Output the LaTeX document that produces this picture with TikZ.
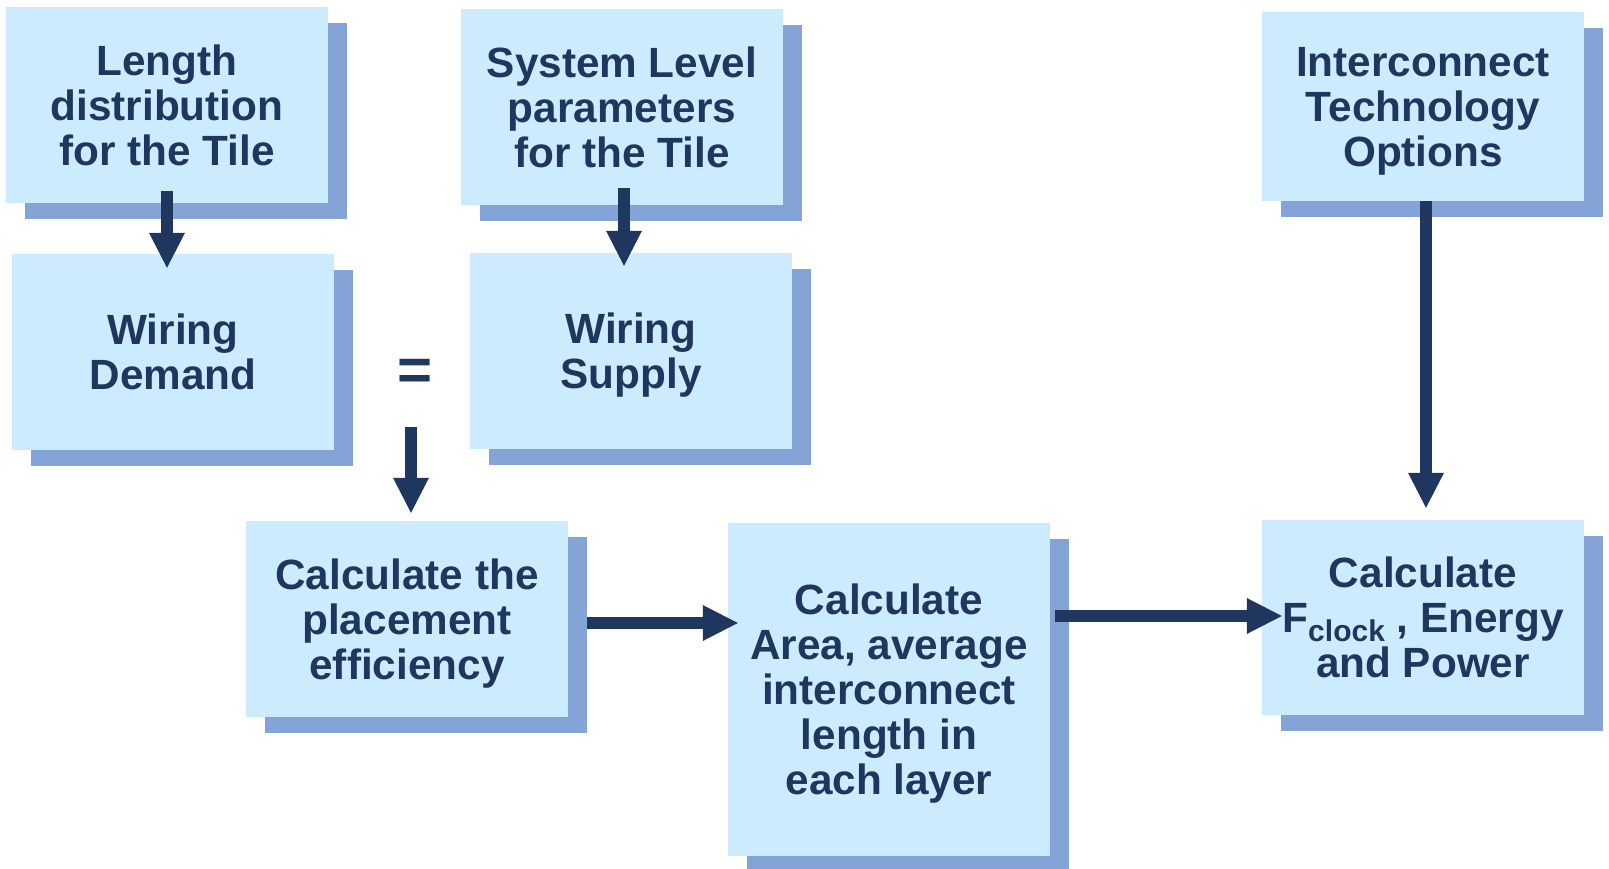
\documentclass[tikz,border=0pt]{standalone}
\usepackage{fontspec}
\setmainfont{Liberation Sans}
\usetikzlibrary{arrows.meta,shadows}
\definecolor{lb}{HTML}{CCEBFF}
\definecolor{shd}{HTML}{84A3D7}
\definecolor{dk}{HTML}{1F365F}
\begin{document}
\begin{tikzpicture}[x=1pt,y=-1pt,
 box/.style={fill=lb, draw=none, minimum width=322pt, minimum height=196pt, inner sep=0pt,
   align=center, text=dk, font=\fontsize{42.3}{45}\selectfont\bfseries,
   drop shadow={shadow xshift=19pt,shadow yshift=-16pt,fill=shd,opacity=1}},
 arr/.style={draw=dk, line width=12pt, -{Triangle[width=36pt,length=35pt,line width=0pt]}}]
\useasboundingbox (0,0) rectangle (1609,869);
\node[box] (b1) at (167,105.5) {Length\\distribution\\for the Tile};
\node[box] (b2) at (173,352) {Wiring\\Demand};
\node[box] (b3) at (622,107) {System Level\\parameters\\for the Tile};
\node[box] (b4) at (631,351) {Wiring\\\smash{Supply}};
\node[box,minimum height=189pt] (b5) at (1423,106.5) {Interconnect\\Technology\\\smash{Options}};
\node[box,minimum height=195pt] (b6) at (1423,617.5) {Calculate\\F\raisebox{-9pt}{\fontsize{30}{30}\selectfont clock} , Energy\\and Power};
\node[box] (b7) at (407,619) {Calculate the\\placement\\\smash{efficiency}};
\node[box,minimum height=333pt] (b8) at (889,689.5) {Calculate\\Area, average\\interconnect\\length in\\\smash{each layer}};
\node[text=dk, font=\fontsize{60}{60}\selectfont\bfseries, inner sep=0pt] (eq) at (415,375) {=};
\coordinate (s3) at (411,427);
\draw[arr] ([yshift=13pt]b1.south) -- ([xshift=-6pt,yshift=-14pt]b2.north);
\draw[arr] ([xshift=2pt,yshift=17pt]b3.south) -- ([xshift=-7pt,yshift=-13pt]b4.north);
\draw[arr] (s3) -- ([xshift=4pt,yshift=8pt]b7.north);
\draw[arr] ([xshift=19pt,yshift=-4pt]b7.east) -- ([xshift=10pt,yshift=66.5pt]b8.west);
\draw[arr] ([xshift=5pt,yshift=73.5pt]b8.east) -- ([xshift=20pt,yshift=1.5pt]b6.west);
\draw[arr] ([xshift=3pt]b5.south) -- ([xshift=3pt,yshift=12pt]b6.north);
\end{tikzpicture}
\end{document}
